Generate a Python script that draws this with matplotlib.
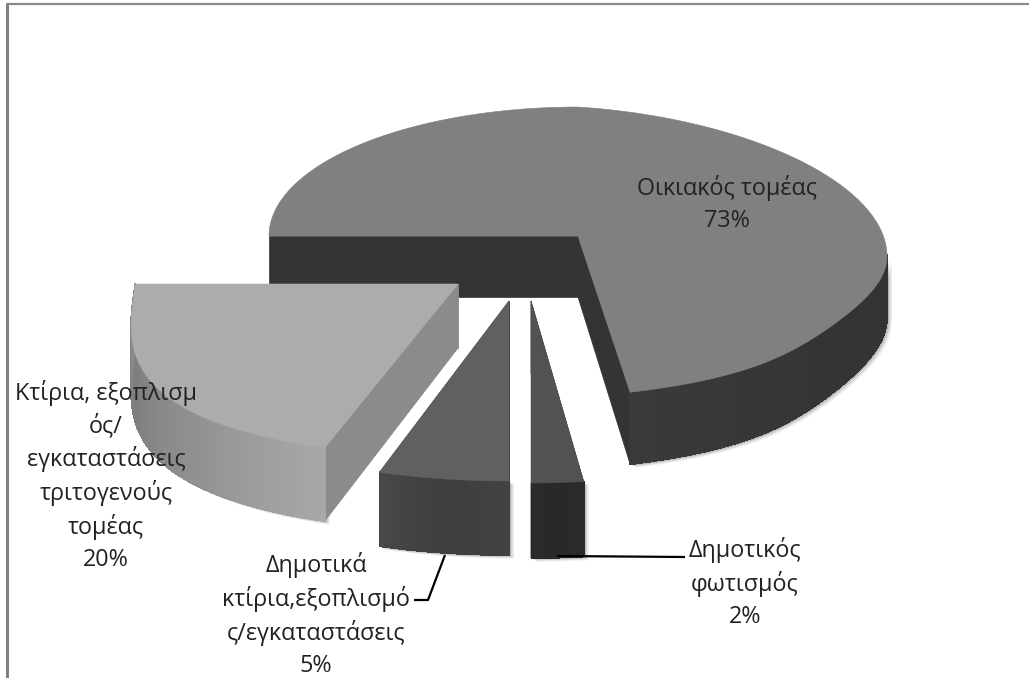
import numpy as np
import matplotlib
matplotlib.use("Agg")
import matplotlib.pyplot as plt
from matplotlib.patches import Polygon

# Data (clockwise from the 9 o'clock direction)
labels = ["Οικιακός τομέας\n73%",
          "Δημοτικός\nφωτισμός\n2%",
          "Δημοτικά\nκτίρια,εξοπλισμό\nς/εγκαταστάσεις\n5%",
          "Κτίρια, εξοπλισμ\nός/\nεγκαταστάσεις\nτριτογενούς\nτομέας\n20%"]
values = [73, 2, 5, 20]

# Style / layout per slice
centers = [(578, 236), (531, 301), (509, 301), (458, 284)]
rx = [309, 310, 314, 323]
ry_back = [129, 129, 129, 129]
ry_front = [161, 182, 180, 172]
depth_in = [61, 72, 72, 64]
depth_out = [72, 75, 74, 74]
persp_pow = [5, 1.5, 1.5, 1.5]
tilt = [1, 0, 0, 0]
top_col = ["#808080", "#525252", "#606060", "#acacac"]
wall_col = ["#343434", "#2a2a2a", "#404040", "#8b8b8b"]
side_cols = [["#333333", "#343434", "#3a3a3a"],
             ["#2a2a2a", "#292929", "#2a2a2a"],
             ["#424242", "#3e3e3e", "#484848"],
             ["#a8a8a8", "#909090", "#7e7e7e", "#8c8c8c"]]
label_xy = [(727, 204), (745, 583), (316, 615), (106, 476)]
order = [0, 3, 2, 1]
KX = 0.36

fig = plt.figure(figsize=(10.29, 6.78), dpi=100, facecolor="white")
ax = fig.add_axes([0, 0, 1, 1])
ax.set_xlim(0, 1029)
ax.set_ylim(678, 0)
ax.axis("off")

# slice angles from the values
shares = np.array(values) / np.sum(values) * 360
ends = 180 - np.cumsum(shares)
starts = ends + shares


def project(i, t):
    t = np.radians(t)
    p = -np.sin(t)
    c = np.cos(t)
    pf = np.clip(p, 0, None)
    cr = np.clip(c, 0, None)
    s = 1 + KX * pf ** persp_pow[i]
    x = centers[i][0] + rx[i] * c * s
    y = centers[i][1] + np.where(p > 0, ry_front[i], ry_back[i]) * p
    y = y + tilt[i] * (20 * cr - 48 * pf * cr)
    d = depth_in[i] + (depth_out[i] - depth_in[i]) * pf
    return x, y, d


def gray(hexcol):
    return int(hexcol[1:3], 16)


for i in order:
    ts = np.linspace(starts[i], ends[i], 400)
    x, y, d = project(i, ts)
    cx, cy = centers[i]
    d0 = depth_in[i]
    top = np.column_stack([np.r_[cx, x], np.r_[cy, y]])

    vis = (-np.sin(np.radians(ts)) >= -0.02) & (ts < 90)
    sv = np.vstack([np.column_stack([x[vis], y[vis]]),
                    np.column_stack([x[vis][::-1], (y + d)[vis][::-1]])])
    for off, a in [(5, 0.07), (3.5, 0.10), (2, 0.14)]:
        ax.add_patch(Polygon(sv + [off, off * 0.7], closed=True, fc="black",
                             ec="none", alpha=a, zorder=2 + order.index(i) * 3))

    z = 3 + order.index(i) * 3
    # cut walls
    for (xe, ye, de) in [(x[0], y[0], d[0]), (x[-1], y[-1], d[-1])]:
        ax.add_patch(Polygon([(cx, cy), (xe, ye), (xe, ye + de), (cx, cy + d0)],
                             closed=True, fc=wall_col[i], ec=wall_col[i], lw=0.5, zorder=z))
    # outer side: smooth base, then shaded quads without antialiasing
    idx = np.where(vis)[0]
    stops = np.linspace(0, 1, len(side_cols[i]))
    vals = [gray(c) for c in side_cols[i]]
    base = np.mean(vals) / 255
    ax.add_patch(Polygon(sv, closed=True, fc=(base, base, base), ec=(base, base, base),
                         lw=0.6, zorder=z))
    for k in range(len(idx) - 1):
        a, b = idx[k], idx[k + 1]
        frac = (k + 0.5) / (len(idx) - 1)
        g = np.interp(frac, stops, vals) / 255
        ax.add_patch(Polygon([(x[a], y[a]), (x[b], y[b]), (x[b], y[b] + d[b]), (x[a], y[a] + d[a])],
                             closed=True, fc=(g, g, g), ec=(g, g, g), lw=0.6,
                             antialiased=False, zorder=z))
    ax.add_patch(Polygon(top, closed=True, fc=top_col[i], ec=top_col[i], lw=0.4, zorder=z + 1))

# leader lines
ax.plot([557, 685], [556, 557], color="black", lw=1.6, zorder=20, solid_capstyle="butt")
ax.plot([445, 428, 414], [555, 600, 600], color="black", lw=1.6, zorder=20, solid_capstyle="butt")

# frame remnants
ax.plot([7, 7], [4, 678], color="#808080", lw=2.2, zorder=1, solid_capstyle="butt")
ax.plot([6, 1029], [4, 4], color="#8a8a8a", lw=1.6, zorder=1, solid_capstyle="butt")

for lab, (lx, ly) in zip(labels, label_xy):
    ax.text(lx, ly, lab, ha="center", va="center", family="Open Sans", fontsize=16.8,
            color="#222222", linespacing=1.4, zorder=30)

fig.savefig("out.png", dpi=100, facecolor="white")
